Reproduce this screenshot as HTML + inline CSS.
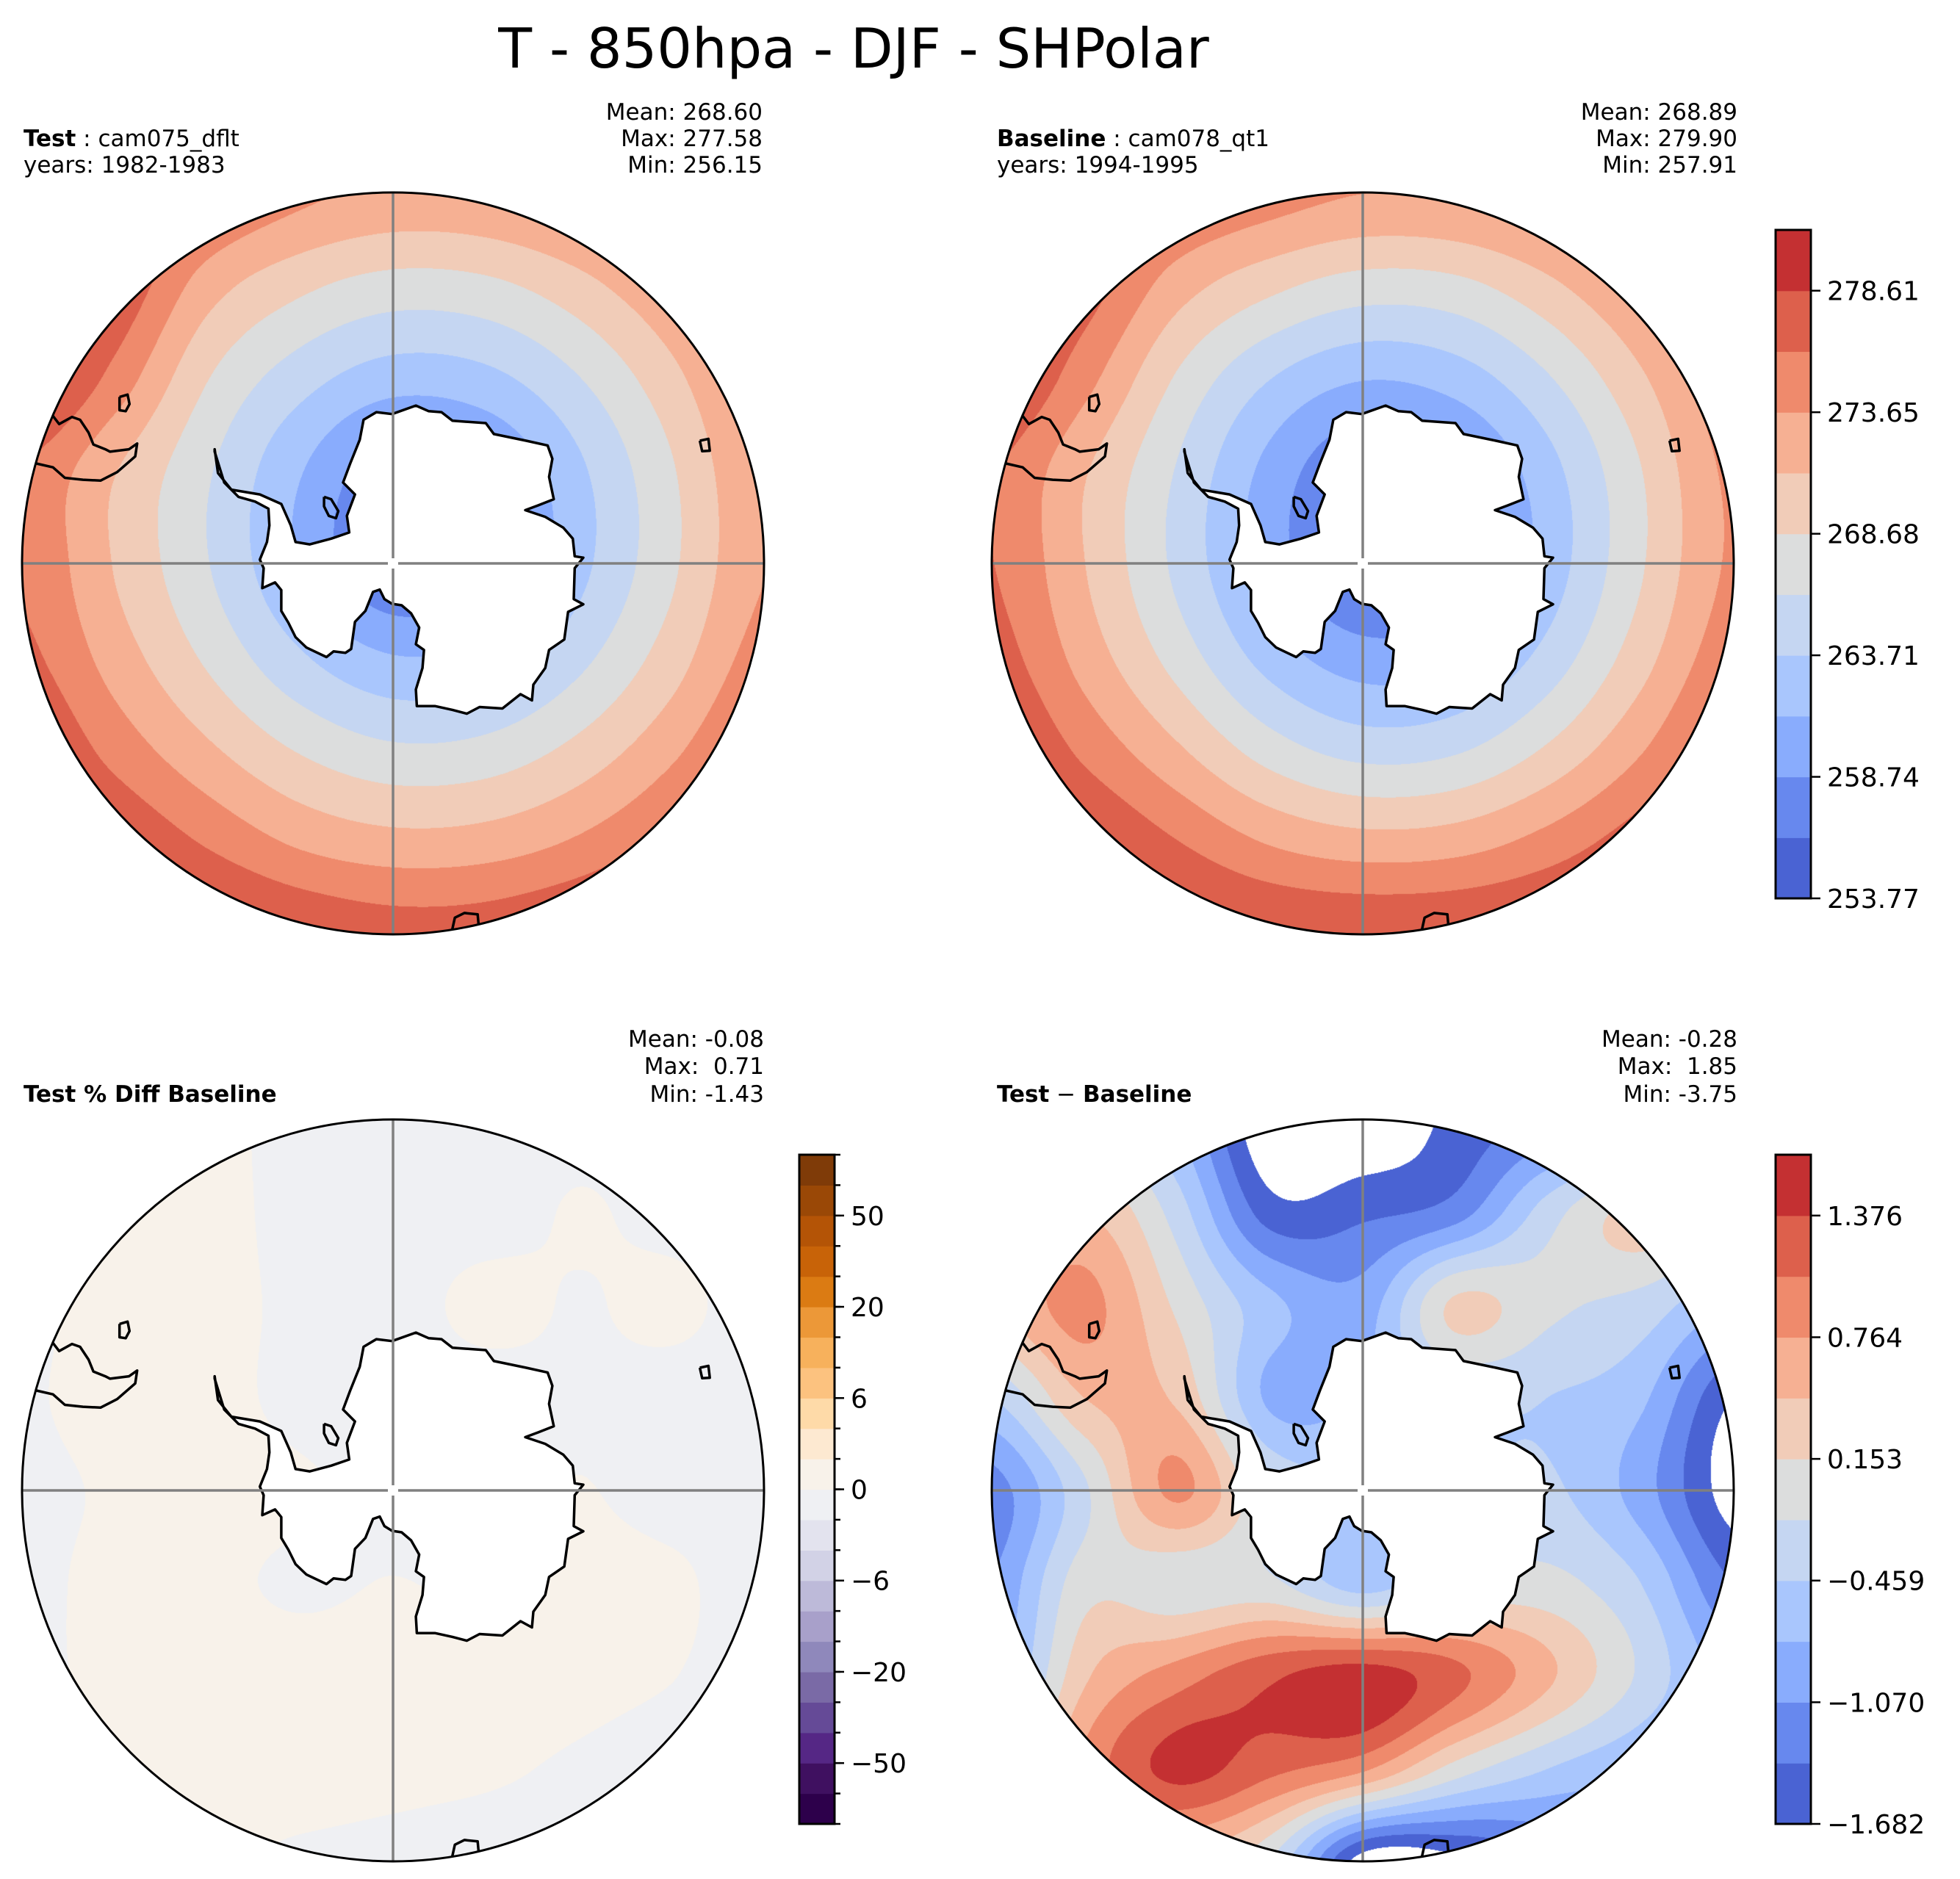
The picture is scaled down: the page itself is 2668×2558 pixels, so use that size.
<!DOCTYPE html>
<html><head><meta charset="utf-8"><title>T - 850hpa - DJF - SHPolar</title>
<style>
html,body{margin:0;padding:0;background:#fff;}
#root{position:relative;width:2668px;height:2558px;overflow:hidden;background:#fff;font-family:"DejaVu Sans","Liberation Sans",sans-serif;}
canvas{position:absolute;}
svg{position:absolute;left:0;top:0;}
text{font-family:"DejaVu Sans","Liberation Sans",sans-serif;fill:#000;}
</style></head>
<body>
<div id="root">
<canvas id="c0" width="1010" height="1010"></canvas>
<canvas id="c1" width="1010" height="1010"></canvas>
<canvas id="c2" width="1010" height="1010"></canvas>
<canvas id="c3" width="1010" height="1010"></canvas>
<svg id="ov" width="2668" height="2558" xmlns="http://www.w3.org/2000/svg">
<text x="1162" y="92" font-size="75" text-anchor="middle">T - 850hpa - DJF - SHPolar</text>

<text x="32" y="199" font-size="31"><tspan font-weight="bold">Test</tspan> : cam075_dflt</text>
<text x="32" y="235" font-size="31">years: 1982-1983</text>
<g font-size="31" text-anchor="end">
<text x="1038" y="163">Mean: 268.60</text><text x="1038" y="199">Max: 277.58</text><text x="1038" y="235">Min: 256.15</text></g>

<text x="1357" y="199" font-size="31"><tspan font-weight="bold">Baseline</tspan> : cam078_qt1</text>
<text x="1357" y="235" font-size="31">years: 1994-1995</text>
<g font-size="31" text-anchor="end">
<text x="2365" y="163">Mean: 268.89</text><text x="2365" y="199">Max: 279.90</text><text x="2365" y="235">Min: 257.91</text></g>

<text x="32" y="1500" font-size="31" font-weight="bold">Test % Diff Baseline</text>
<g font-size="31" text-anchor="end">
<text x="1040" y="1425">Mean: -0.08</text><text x="1040" y="1462">Max:&#160;&#160;0.71</text><text x="1040" y="1500">Min: -1.43</text></g>

<text x="1357" y="1500" font-size="31"><tspan font-weight="bold">Test</tspan> − <tspan font-weight="bold">Baseline</tspan></text>
<g font-size="31" text-anchor="end">
<text x="2365" y="1425">Mean: -0.28</text><text x="2365" y="1462">Max:&#160;&#160;1.85</text><text x="2365" y="1500">Min: -3.75</text></g>
<g id="dyn"></g>
</svg>
</div>
<script>
// ---------- data ----------
const levelsT = [253.77,256.25,258.74,261.22,263.71,266.19,268.68,271.16,273.65,276.13,278.61,281.10];
const levelsD = [-1.682,-1.376,-1.070,-0.765,-0.459,-0.153,0.153,0.458,0.764,1.070,1.376,1.682];
const levelsP = [-75,-60,-50,-40,-30,-20,-15,-10,-6,-4,-2,0,2,4,6,10,15,20,30,40,50,60,75];
const colorsCW = ['#4a63d3','#6788ee','#89acfd','#a9c6fd','#c5d6f2','#dcdddd','#f1ccb8','#f6b093','#ef8a6c','#dd604c','#c43032'];
const colorsPO = ['#2d004b','#3f1060','#552785','#654a97','#7a6aa6','#8f88bb','#a8a0ca','#bdbad9','#d2d2e6','#e3e3ee','#eff0f3','#f8f2ea','#fde9d1','#fedaa8','#fcc27f','#f7b15c','#ec9838','#db7b13','#c86308','#b45406','#9a4806','#7f3b08'];
const ticksT = ['253.77','258.74','263.71','268.68','273.65','278.61'];
const ticksD = ['−1.682','−1.070','−0.459','0.153','0.764','1.376'];
const ticksP = ['−50','−20','−6','0','6','20','50'];
const tickIdxT = [0,2,4,6,8,10];
const tickIdxP = [2,5,8,11,14,17,20];

// 9x9 grids over the map box (rows top->bottom, cols left->right, step 0.25 radius)
const gridTest = [
[283.9,280.0,276.7,274.3,273.1,273.4,275.0,277.8,281.0],
[280.5,278.3,272.4,269.3,267.7,268.1,270.3,273.7,277.9],
[280.3,275.3,268.8,264.8,262.4,263.0,266.1,270.4,275.2],
[276.0,271.3,266.5,261.4,257.2,258.5,263.2,268.4,273.7],
[275.8,271.0,266.3,261.0,256.3,257.8,262.9,268.2,273.5],
[276.8,272.5,268.2,264.0,261.3,262.0,265.4,269.9,274.8],
[279.0,275.2,271.6,268.4,266.6,267.0,269.4,273.0,277.3],
[280.5,278.6,275.8,273.2,272.0,272.3,274.0,276.9,280.6],
[281.0,280.8,280.0,278.4,277.4,277.6,279.0,281.0,281.0]];
const gridBase = [
[281.0,279.0,276.6,274.9,273.7,274.0,275.6,278.4,281.0],
[279.5,277.4,272.4,269.4,267.6,268.0,270.6,274.3,278.5],
[279.3,274.6,268.4,263.8,261.4,262.4,266.0,270.8,275.8],
[276.3,271.4,266.0,260.4,256.5,258.0,262.8,268.6,274.3],
[276.2,271.2,265.6,260.0,255.8,257.3,262.3,268.4,274.1],
[277.3,272.6,267.6,262.6,259.8,260.6,264.6,270.1,275.4],
[279.3,275.5,271.5,267.4,265.2,265.8,269.0,273.4,278.0],
[280.6,279.0,276.2,273.4,272.1,272.5,274.6,277.6,280.6],
[281.0,281.0,280.0,278.8,278.4,278.6,279.4,281.0,281.0]];
const gridPct = [
[-0.3,-0.2,0.2,-0.3,-0.3,-0.3,-0.2,-0.3,-0.3],
[-0.2,0.2,0.3,-0.3,-0.3,-0.3,0.05,-0.2,-0.3],
[-0.2,0.3,0.3,-0.2,-0.3,0.2,-0.05,0.15,-0.3],
[-0.1,0.3,0.25,-0.2,-0.3,-0.3,-0.1,-0.25,-0.3],
[-0.2,0.1,0.3,0.1,-0.2,-0.2,0.02,-0.2,-0.3],
[-0.2,0.2,0.15,-0.1,0.02,-0.1,0.1,0.1,-0.3],
[-0.2,0.2,0.3,0.3,0.3,0.3,0.2,0.02,-0.3],
[-0.3,0.05,0.3,0.3,0.2,0.1,-0.1,-0.3,-0.3],
[-0.3,-0.2,0.05,-0.1,-0.2,-0.3,-0.3,-0.3,-0.3]];
const gridDiff = [
[-0.15,-0.15,-0.76,-2.00,-2.00,-1.60,-1.30,-1.07,-0.76],
[0.15,0.46,-0.30,-1.53,-1.44,-1.22,-0.30,0.25,-0.15],
[0.46,0.86,0.09,-0.67,-0.92,0.22,-0.09,-0.27,-0.76],
[-0.46,0.46,0.40,-0.83,-0.76,-0.46,-0.46,-0.70,-1.68],
[-1.22,-0.21,0.83,-0.15,-0.46,-0.46,-0.40,-0.92,-1.84],
[-1.07,0.03,-0.06,-0.09,-0.61,-0.15,-0.06,-0.46,-1.38],
[-0.92,0.40,0.92,1.32,1.53,1.16,0.52,-0.21,-0.92],
[-0.46,0.83,1.47,1.16,0.83,0.03,-0.46,-0.76,-1.07],
[0.15,0.46,0.46,-0.15,-1.84,-1.77,-1.38,-1.07,-1.07]];

// ---------- geometry ----------
const R = 505;
const panels = [
 {id:'c0',cx:535,cy:767,grid:gridTest,lv:levelsT,col:colorsCW,clamp:true,name:'test-map'},
 {id:'c1',cx:1855,cy:767,grid:gridBase,lv:levelsT,col:colorsCW,clamp:true,name:'baseline-map'},
 {id:'c2',cx:535,cy:2029,grid:gridPct,lv:levelsP,col:colorsPO,clamp:true,name:'pct-diff-map'},
 {id:'c3',cx:1855,cy:2029,grid:gridDiff,lv:levelsD,col:colorsCW,clamp:false,name:'diff-map'}];

function hex(c){return [parseInt(c.substr(1,2),16),parseInt(c.substr(3,2),16),parseInt(c.substr(5,2),16)];}
function cr(p0,p1,p2,p3,t){return p1+0.5*t*(p2-p0+t*(2*p0-5*p1+4*p2-p3+t*(3*(p1-p2)+p3-p0)));}
function sample(g,u,v){
  const n=g.length-1;
  const gx=(u+1)/2*n, gy=(v+1)/2*n;
  const i=Math.min(n-1,Math.max(0,Math.floor(gx))), j=Math.min(n-1,Math.max(0,Math.floor(gy)));
  const tx=gx-i, ty=gy-j;
  const cl=k=>Math.min(n,Math.max(0,k));
  const rows=[];
  for(let dj=-1;dj<=2;dj++){
    const r=g[cl(j+dj)];
    rows.push(cr(r[cl(i-1)],r[cl(i)],r[cl(i+1)],r[cl(i+2)],tx));
  }
  return cr(rows[0],rows[1],rows[2],rows[3],ty);
}
function render(p){
  const cv=document.getElementById(p.id);
  cv.style.left=(p.cx-R)+'px'; cv.style.top=(p.cy-R)+'px';
  const ctx=cv.getContext('2d');
  const img=ctx.createImageData(1010,1010);
  const rgb=p.col.map(hex);
  const lv=p.lv, nb=lv.length-1;
  for(let py=0;py<1010;py++){
    const v=(py+0.5-R)/R;
    for(let px=0;px<1010;px++){
      const u=(px+0.5-R)/R;
      const o=(py*1010+px)*4;
      if(u*u+v*v>1){img.data[o+3]=0;continue;}
      const val=sample(p.grid,u,v);
      let k=-1;
      if(val<lv[0]) k=p.clamp?0:-1;
      else if(val>=lv[nb]) k=p.clamp?nb-1:-1;
      else {for(let q=0;q<nb;q++){if(val>=lv[q]&&val<lv[q+1]){k=q;break;}}}
      if(k<0){img.data[o]=255;img.data[o+1]=255;img.data[o+2]=255;img.data[o+3]=255;continue;}
      const c=rgb[k];
      img.data[o]=c[0];img.data[o+1]=c[1];img.data[o+2]=c[2];img.data[o+3]=255;
    }
  }
  ctx.putImageData(img,0,0);
}
panels.forEach(render);

// ---------- coastlines (map-box coords 0..1560) ----------
const antarctica=[[405,540],[412,590],[440,625],[500,635],[545,655],[565,700],[575,735],[605,740],[650,728],[688,715],[683,680],[700,635],[675,610],[690,570],[710,520],[718,478],[745,462],[778,466],[828,448],[855,460],[882,462],[905,480],[975,485],[992,508],[1060,522],[1105,532],[1115,560],[1108,598],[1118,645],[1085,658],[1058,668],[1100,682],[1138,705],[1158,728],[1162,765],[1180,768],[1162,790],[1160,855],[1180,866],[1148,882],[1140,940],[1108,962],[1100,1000],[1075,1035],[1072,1068],[1048,1055],[1010,1085],[962,1082],[935,1096],[905,1088],[868,1080],[830,1080],[828,1045],[842,1000],[845,962],[828,950],[835,915],[818,885],[798,868],[778,865],[762,855],[752,835],[738,840],[722,880],[700,903],[692,960],[680,968],[655,965],[640,977],[598,957],[575,935],[560,905],[545,880],[545,836],[532,820],[505,832],[508,790],[500,772],[515,735],[520,700],[518,665],[490,650],[455,640],[425,610],[405,545]];
const africa=[[30,570],[65,578],[90,600],[128,604],[165,606],[200,588],[238,555],[242,528],[225,540],[185,545],[175,540],[150,530],[140,505],[122,478],[105,472],[78,487],[65,470]];
const islandA=[[205,430],[222,425],[226,445],[218,460],[205,458],[205,430]];
const islandB=[[1425,522],[1443,518],[1446,543],[1430,544],[1425,522]];
const islandC=[[900,1570],[910,1525],[930,1515],[958,1518],[960,1540],[955,1570]];
const islandD=[[635,640],[650,645],[665,670],[660,685],[645,680],[635,660],[635,640]];

const NS='http://www.w3.org/2000/svg';
const dyn=document.getElementById('dyn');
function mk(tag,attrs,parent){const e=document.createElementNS(NS,tag);for(const k in attrs)e.setAttribute(k,attrs[k]);(parent||dyn).appendChild(e);return e;}
function pts(p,arr){return arr.map(a=>{const x=p.cx+(a[0]/780-1)*R,y=p.cy+(a[1]/780-1)*R;return x.toFixed(1)+','+y.toFixed(1);}).join(' ');}

panels.forEach((p,i)=>{
  const g=mk('g',{});
  
  
  const cp=mk('clipPath',{id:'clip'+i},g);
  mk('circle',{cx:p.cx,cy:p.cy,r:R},cp);
  const inner=mk('g',{'clip-path':'url(#clip'+i+')'},g);
  const land=mk('polygon',{points:pts(p,antarctica),fill:'#fff',stroke:'#000','stroke-width':3.5,'stroke-linejoin':'round'},inner);
  
  
  [africa,islandA,islandB,islandC,islandD].forEach(arr=>{
    const pl=mk('polyline',{points:pts(p,arr),fill:'none',stroke:'#000','stroke-width':3.5,'stroke-linejoin':'round'},inner);
    
    
  });
  const gl=mk('g',{stroke:'#808080','stroke-width':3.5},g);
  
  
  mk('line',{x1:p.cx-R,y1:p.cy,x2:p.cx-7,y2:p.cy},gl);
  mk('line',{x1:p.cx+7,y1:p.cy,x2:p.cx+R,y2:p.cy},gl);
  mk('line',{x1:p.cx,y1:p.cy-R,x2:p.cx,y2:p.cy-7},gl);
  mk('line',{x1:p.cx,y1:p.cy+7,x2:p.cx,y2:p.cy+R},gl);
  const bd=mk('circle',{cx:p.cx,cy:p.cy,r:R,fill:'none',stroke:'#000','stroke-width':3},g);
  
  
});

// ---------- colorbars ----------
function colorbar(name,x,top,h,w,colors,labelIdx,labels,minorAll){
  const g=mk('g',{});
  
  
  const nb=colors.length, bh=h/nb;
  colors.forEach((c,k)=>{
    const r=mk('rect',{x:x,y:(top+h-(k+1)*bh).toFixed(2),width:w,height:(bh+0.6).toFixed(2),fill:c},g);
    
    
  });
  mk('rect',{x:x,y:top,width:w,height:h,fill:'none',stroke:'#000','stroke-width':3},g);
  if(minorAll){
    for(let k=0;k<=nb;k++){const y=top+h-k*bh;mk('line',{x1:x+w,y1:y,x2:x+w+8,y2:y,stroke:'#000','stroke-width':2.5},g);}
  }
  labelIdx.forEach((k,i)=>{
    const y=top+h-k*bh;
    mk('line',{x1:x+w,y1:y,x2:x+w+13,y2:y,stroke:'#000','stroke-width':2.5},g);
    const t=mk('text',{x:x+w+22,y:(y+13).toFixed(1),'font-size':36},g);
    t.textContent=labels[i];
    
    
  });
}
colorbar('test-baseline-colorbar',2417,313,910,48,colorsCW,tickIdxT,ticksT,false);
colorbar('pct-diff-colorbar',1088,1572,911,48,colorsPO,tickIdxP,ticksP,true);
colorbar('diff-colorbar',2417,1572,911,48,colorsCW,tickIdxT,ticksD,false);
</script>
</body></html>
